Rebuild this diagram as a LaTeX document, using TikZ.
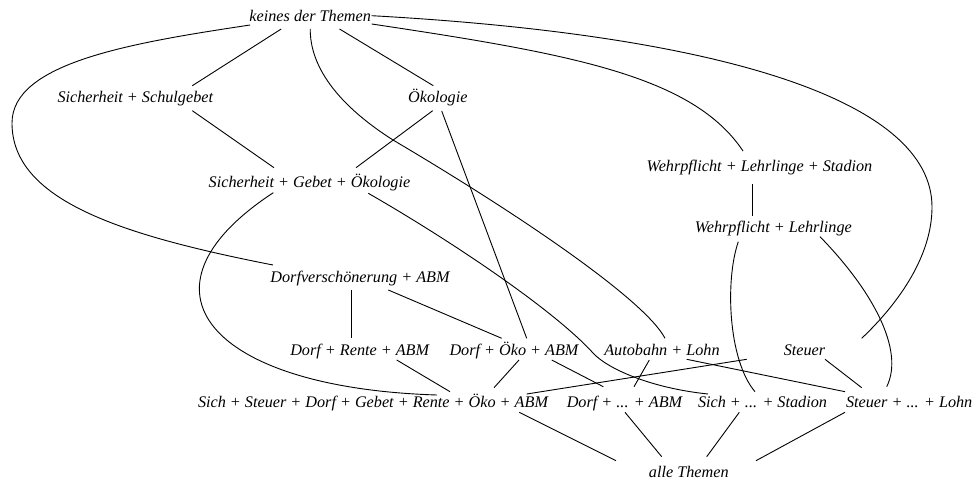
\documentclass[tikz,border=0pt]{standalone}
\usepackage{fontspec}
\setmainfont{Liberation Serif}
\begin{document}
\begin{tikzpicture}[x=1pt,y=-1pt,
  lbl/.style={anchor=base,inner sep=0pt,font=\fontsize{16.2}{19}\selectfont\itshape},
  edge/.style={line width=0.9pt}]
\useasboundingbox (0,0) rectangle (979,486);

% ---- Begriffe (Knoten) ----
\node[lbl] (keines)    at (310.2,21.5) {keines der Themen};
\node[lbl] (sichschul) at (135.3,103)  {Sicherheit + Schulgebet};
\node[lbl] (oeko)      at (437.8,103)  {Ökologie};
\node[lbl] (sgoe)      at (309.5,188)  {Sicherheit + Gebet + Ökologie};
\node[lbl] (wls)       at (759.5,172)  {Wehrpflicht + Lehrlinge + Stadion};
\node[lbl] (wl)        at (773.3,233)  {Wehrpflicht + Lehrlinge};
\node[lbl] (dorfv)     at (360,282)    {Dorfverschönerung + ABM};
\node[lbl] (dra)       at (359.7,355)  {Dorf + Rente + ABM};
\node[lbl] (doa)       at (514,355)    {Dorf + Öko + ABM};
\node[lbl] (al)        at (662,355)    {Autobahn + Lohn};
\node[lbl] (steuer)    at (804.5,355)  {Steuer};
\node[lbl] (big)       at (373,407.7)  {Sich + Steuer + Dorf + Gebet + Rente + Öko + ABM};
\node[lbl] (dda)       at (624.5,407.7){Dorf + ... + ABM};
\node[lbl] (sss)       at (762.5,407.7){Sich + ... + Stadion};
\node[lbl] (ssl)       at (909.2,407.7){Steuer + ... + Lohn};
\node[lbl] (alle)      at (688.8,477.7){alle Themen};

% ---- Verbindungen ----
% von "keines der Themen"
\draw[edge] ([shift={(-60,3.5)}]keines.base) .. controls (130,43) and (12,63) .. (12,123)
            .. controls (12,200) and (120,235) .. ([shift={(-87,-17)}]dorfv.base);
\draw[edge] ([shift={(-29,7.5)}]keines.base) -- ([shift={(57,-17.3)}]sichschul.base);
\draw[edge] ([shift={(0,7.5)}]keines.base) .. controls (310,80) and (360,119) .. (393,140)
            .. controls (520,215) and (645,300) .. ([shift={(3,-16.7)}]al.base);
\draw[edge] ([shift={(29.3,7.5)}]keines.base) -- ([shift={(-4.5,-17.3)}]oeko.base);
\draw[edge] ([shift={(61.5,2.5)}]keines.base) .. controls (572,54) and (693,76) .. ([shift={(-16.5,-21)}]wls.base);
\draw[edge] ([shift={(61.5,-5.8)}]keines.base) .. controls (720,35) and (932,100) .. (932,207)
            .. controls (932,255) and (900,302) .. ([shift={(57.2,-16.7)}]steuer.base);

% zweite Ebene
\draw[edge] ([shift={(57,7.7)}]sichschul.base) -- ([shift={(-35.5,-20.3)}]sgoe.base);
\draw[edge] ([shift={(-5.1,7.7)}]oeko.base) -- ([shift={(46.5,-20.3)}]sgoe.base);
\draw[edge] ([shift={(3.9,8)}]oeko.base) -- ([shift={(12.7,-16.7)}]doa.base);
\draw[edge] ([shift={(-36.2,4.7)}]sgoe.base) .. controls (125,290) and (210,388) .. ([shift={(64,-12.7)}]big.base);
\draw[edge] ([shift={(58.8,5.3)}]sgoe.base) .. controls (448,239) and (553,309) .. (593,353)
            .. controls (607,368.4) and (650,388) .. ([shift={(-54.5,-13.7)}]sss.base);
\draw[edge] ([shift={(-6.8,12)}]wls.base) -- ([shift={(-20.6,-17)}]wl.base);
\draw[edge] ([shift={(-35,8.7)}]wl.base) .. controls (725,280) and (728,360) .. ([shift={(-7.5,-16)}]sss.base);
\draw[edge] ([shift={(46.7,3.7)}]wl.base) .. controls (872,290) and (905,350) .. ([shift={(-22.5,-21)}]ssl.base);
\draw[edge] ([shift={(-8.3,8)}]dorfv.base) -- ([shift={(-8,-16.7)}]dra.base);
\draw[edge] ([shift={(28.3,8)}]dorfv.base) -- ([shift={(-12.3,-16.7)}]doa.base);

% zur unteren Reihe
\draw[edge] ([shift={(37,5)}]dra.base) -- ([shift={(77,-16)}]big.base);
\draw[edge] ([shift={(5,5)}]doa.base) -- ([shift={(121,-20)}]big.base);
\draw[edge] ([shift={(37.7,5)}]doa.base) -- ([shift={(-21.2,-21)}]dda.base);
\draw[edge] ([shift={(-12.7,5)}]al.base) -- ([shift={(9.5,-21)}]dda.base);
\draw[edge] ([shift={(24.7,4.3)}]al.base) -- ([shift={(-64.2,-16)}]ssl.base);
\draw[edge] ([shift={(-57.8,4.3)}]steuer.base) -- ([shift={(153.7,-13.7)}]big.base);
\draw[edge] ([shift={(20.5,4.3)}]steuer.base) -- ([shift={(-47.5,-20)}]ssl.base);

% zu "alle Themen"
\draw[edge] ([shift={(146.3,4.6)}]big.base) -- ([shift={(-72.8,-17)}]alle.base);
\draw[edge] ([shift={(0.5,4.6)}]dda.base) -- ([shift={(-27.1,-21)}]alle.base);
\draw[edge] ([shift={(-23.2,4.6)}]sss.base) -- ([shift={(17.9,-21)}]alle.base);
\draw[edge] ([shift={(-64.2,4.6)}]ssl.base) -- ([shift={(67.2,-17)}]alle.base);
\end{tikzpicture}
\end{document}
